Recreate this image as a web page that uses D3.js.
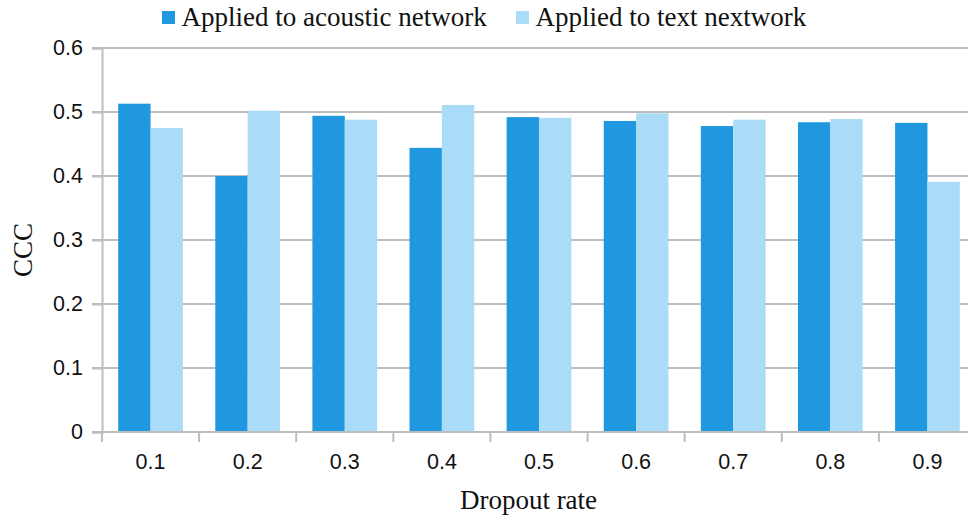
<!DOCTYPE html>
<html><head><meta charset="utf-8">
<script src="https://cdn.jsdelivr.net/npm/d3@7"></script>
<style>body{margin:0;background:#fff}svg{display:block}
.serif{font-family:"Liberation Serif","Tinos","Times New Roman",Times,"DejaVu Serif",serif}
.sans{font-family:"Liberation Sans",Arial,Helvetica,sans-serif}
</style>
</head><body>
<svg id="c" width="968" height="515"></svg>
<script>
const categories = ["0.1","0.2","0.3","0.4","0.5","0.6","0.7","0.8","0.9"];
const acoustic = [0.513,0.400,0.494,0.444,0.492,0.486,0.478,0.484,0.483];
const textNet = [0.475,0.502,0.488,0.511,0.491,0.498,0.488,0.489,0.391];
const seriesNames = ["Applied to acoustic network","Applied to text nextwork"];
const yTicks = [0,0.1,0.2,0.3,0.4,0.5,0.6];
const colors = ["#1f98e0","#abdcf7"];

(function(){
const svg = d3.select("#c");
const mLeft = 102, mRight = 976, mTop = 48, mBottom = 432;
const x = d3.scaleBand().domain(categories).range([mLeft, mRight]).paddingInner(0).paddingOuter(0);
const y = d3.scaleLinear().domain([0,0.6]).range([mBottom, mTop]);
const bw = x.bandwidth();
const inner = d3.scaleBand().domain([0,1]).range([bw/6, bw*5/6]).padding(0);
const grey = "#bdbdbd";

// gridlines
svg.append("g").selectAll("line").data(yTicks.filter(d=>d>0)).join("line")
  .attr("x1", mLeft-10).attr("x2", 968).attr("y1", d=>y(d)).attr("y2", d=>y(d))
  .attr("stroke", grey).attr("stroke-width", 2);

// bars
const series = [acoustic, textNet];
series.forEach((vals, si) => {
  svg.append("g").selectAll("rect").data(vals).join("rect")
    .attr("x", (d,i)=> x(categories[i]) + inner(si))
    .attr("width", inner.bandwidth())
    .attr("y", d=>y(d)).attr("height", d=>mBottom - y(d))
    .attr("fill", colors[si]);
});

// y axis
const yAxis = svg.append("g").attr("transform", `translate(${mLeft},0)`)
  .call(d3.axisLeft(y).tickValues(yTicks).tickFormat(d=> d===0 ? "0" : d3.format(".1f")(d)).tickSize(10).tickPadding(9));
yAxis.attr("font-family", null).attr("font-size", null);
yAxis.select(".domain").attr("stroke", grey).attr("stroke-width", 2);
yAxis.selectAll(".tick line").attr("stroke", grey).attr("stroke-width", 2);
yAxis.selectAll(".tick text").attr("class","sans").attr("font-size", 21.5).attr("fill", "#111");

// x axis
const xAxis = svg.append("g").attr("transform", `translate(0,${mBottom})`)
  .call(d3.axisBottom(x).tickSize(0).tickPadding(22));
xAxis.attr("font-family", null).attr("font-size", null);
xAxis.select(".domain").remove();
xAxis.selectAll(".tick text").attr("class","sans").attr("font-size", 21.5).attr("fill", "#111");
svg.append("line").attr("x1", mLeft-10).attr("x2", 968).attr("y1", mBottom).attr("y2", mBottom)
  .attr("stroke", grey).attr("stroke-width", 2);
svg.append("g").selectAll("line").data(categories).join("line")
  .attr("x1", d=>x(d)).attr("x2", d=>x(d)).attr("y1", mBottom).attr("y2", mBottom+10)
  .attr("stroke", grey).attr("stroke-width", 2);

// axis titles
svg.append("text").attr("class","serif").attr("x", 528.5).attr("y", 509).attr("text-anchor","middle")
  .attr("font-size", 27).attr("fill","#111")
  .text("Dropout rate");
svg.append("text").attr("class","serif").attr("transform","translate(32,250) rotate(-90)").attr("text-anchor","middle")
  .attr("font-size", 27).attr("fill","#111")
  .text("CCC");

// legend
const legX = [162, 516];
seriesNames.forEach((n,i)=>{
  svg.append("rect").attr("x", legX[i]).attr("y", 11).attr("width", 13).attr("height", 13).attr("fill", colors[i]);
  svg.append("text").attr("class","serif").attr("x", legX[i]+19.5).attr("y", 26)
    .attr("font-size", 27).attr("fill","#111")
    .text(n);
});
})();
</script>
</body></html>
